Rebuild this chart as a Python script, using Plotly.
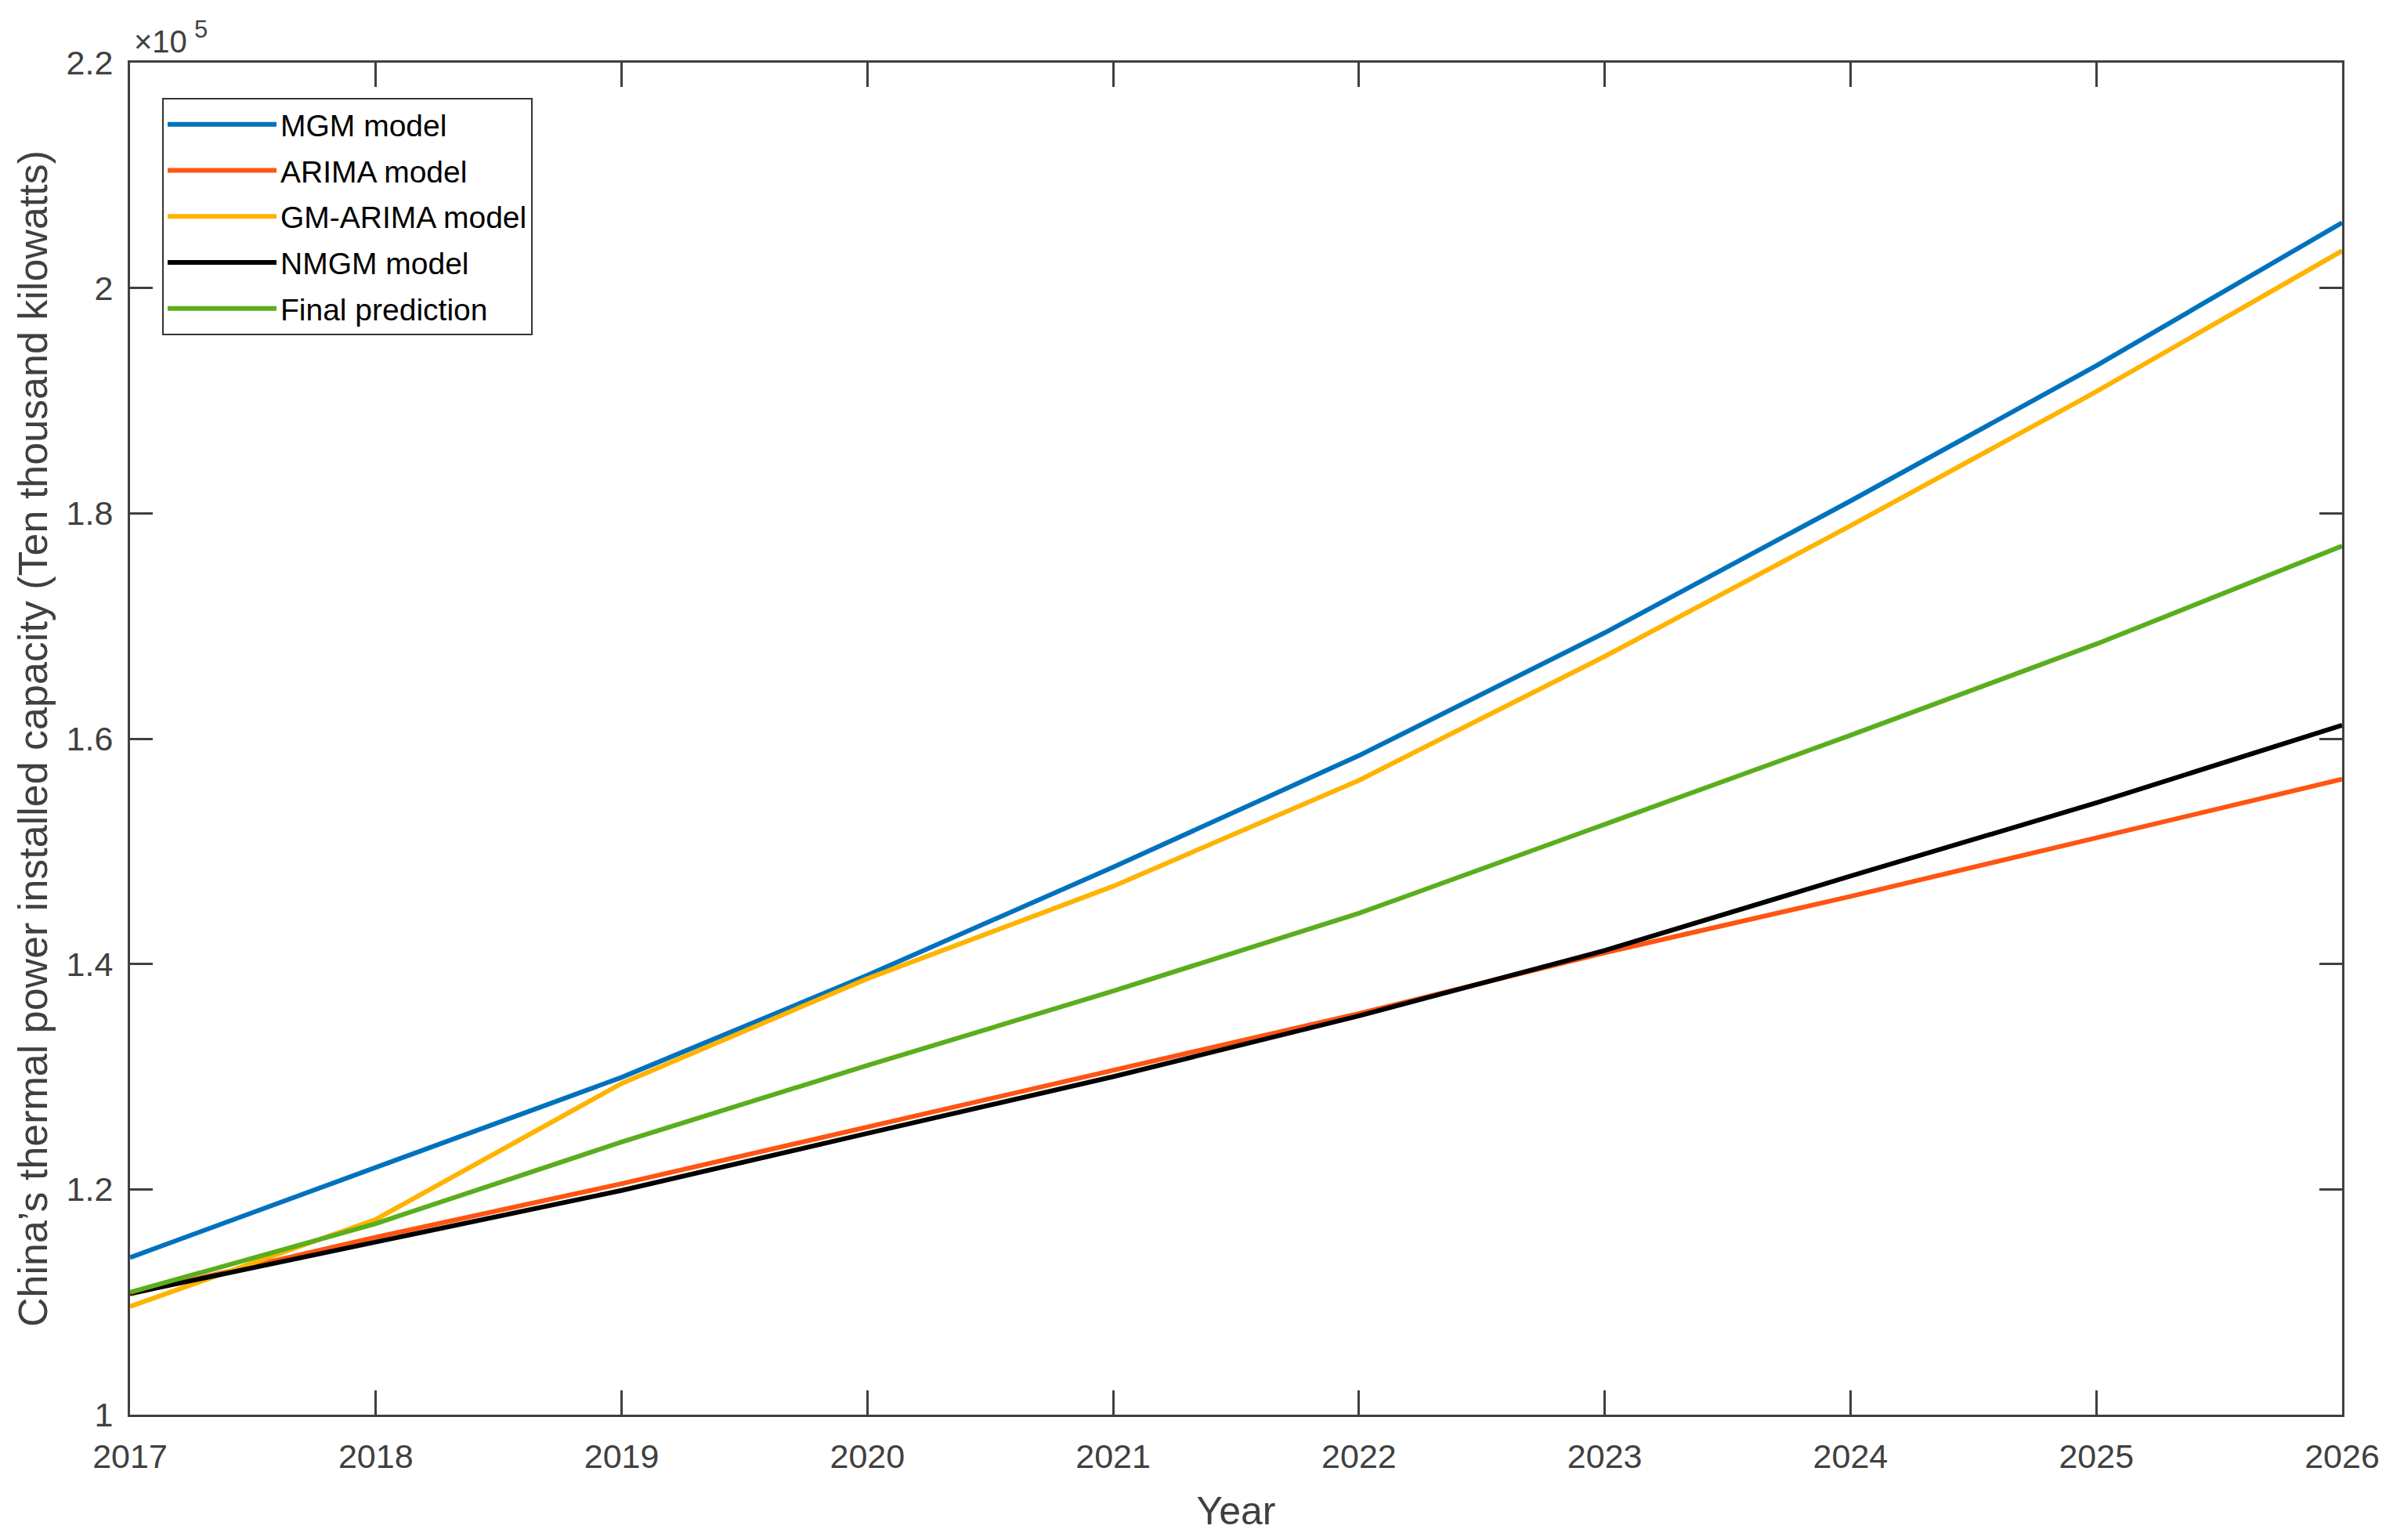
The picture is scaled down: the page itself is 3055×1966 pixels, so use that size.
import plotly.graph_objects as go

years = [2017, 2018, 2019, 2020, 2021, 2022, 2023, 2024, 2025, 2026]

mgm = [113950, 121970, 129940, 139000, 148600, 158500, 169400, 181100, 193100, 205800]
arima = [110700, 115750, 120500, 125500, 130500, 135600, 141000, 146000, 151200, 156400]
gm_arima = [109600, 117330, 129400, 138700, 146900, 156300, 167300, 178900, 190800, 203300]
nmgm = [110750, 115340, 119900, 124970, 130000, 135400, 141200, 147800, 154300, 161200]
final = [110850, 116960, 124200, 131000, 137600, 144500, 152400, 160300, 168400, 177100]

series_names = ["MGM model", "ARIMA model", "GM-ARIMA model", "NMGM model", "Final prediction"]
series_values = [mgm, arima, gm_arima, nmgm, final]
series_colors = ["#0072BD", "#FF5511", "#FFB300", "#000000", "#5AAE1C"]

y_tickvals = [100000, 120000, 140000, 160000, 180000, 200000, 220000]
y_ticktext = ["1", "1.2", "1.4", "1.6", "1.8", "2", "2.2"]
x_tickvals = years
x_ticktext = [str(y) for y in years]

FONT = "Liberation Sans, Arial, Helvetica, sans-serif"
AX = "#404040"

fig = go.Figure()
for name, vals, col in zip(series_names, series_values, series_colors):
    fig.add_trace(go.Scatter(x=years, y=vals, mode="lines", name=name, legendgroup=name,
                             line=dict(color=col, width=6)))

# page has an 8px body margin; compensate so the plot box lands where the reference has it
OFF = 8
W, H = 3055 - OFF, 1966 - OFF
L, R, T, B = 166 - OFF, 65, 80 - OFF, 160
PW, PH = W - L - R, H - T - B

fig.update_layout(
    width=W, height=H,
    margin=dict(l=L, r=R, t=T, b=B, autoexpand=False),
    paper_bgcolor="white", plot_bgcolor="white",
    showlegend=True,
    legend=dict(
        x=(207 - 166) / PW, y=1 - (125 - 80) / PH,
        xanchor="left", yanchor="top",
        bgcolor="white", bordercolor="#333333", borderwidth=2,
        font=dict(family=FONT, size=39, color="black"),
        itemwidth=139,
        traceorder="grouped", tracegroupgap=5,
    ),
    xaxis=dict(
        range=[2017, 2026], tickvals=x_tickvals, ticktext=x_ticktext,
        ticks="inside", ticklen=31, tickwidth=2.5, tickcolor=AX,
        showline=True, linewidth=3, linecolor=AX, mirror="ticks",
        showgrid=False, zeroline=False,
        tickfont=dict(family=FONT, size=43, color=AX),
        ticklabelstandoff=13,
        title=dict(text="Year", font=dict(family=FONT, size=50, color=AX), standoff=30),
    ),
    yaxis=dict(
        range=[100000, 220000], tickvals=y_tickvals, ticktext=y_ticktext,
        ticks="inside", ticklen=29, tickwidth=2.5, tickcolor=AX,
        showline=True, linewidth=3, linecolor=AX, mirror="ticks",
        showgrid=False, zeroline=False,
        tickfont=dict(family=FONT, size=43, color=AX),
        ticklabelstandoff=10,
        title=dict(text="China\u2019s thermal power installed capacity (Ten thousand kilowatts)",
                   font=dict(family=FONT, size=52, color=AX), standoff=8),
    ),
    annotations=[
        dict(text="\u00d710", xref="paper", yref="paper", x=0, y=1,
             xanchor="left", yanchor="bottom", xshift=3, yshift=3, showarrow=False,
             font=dict(family=FONT, size=40, color=AX)),
        dict(text="5", xref="paper", yref="paper", x=0, y=1,
             xanchor="left", yanchor="top", xshift=80, yshift=62, showarrow=False,
             font=dict(family=FONT, size=31, color=AX)),
    ],
)

fig.write_html("out.html")
